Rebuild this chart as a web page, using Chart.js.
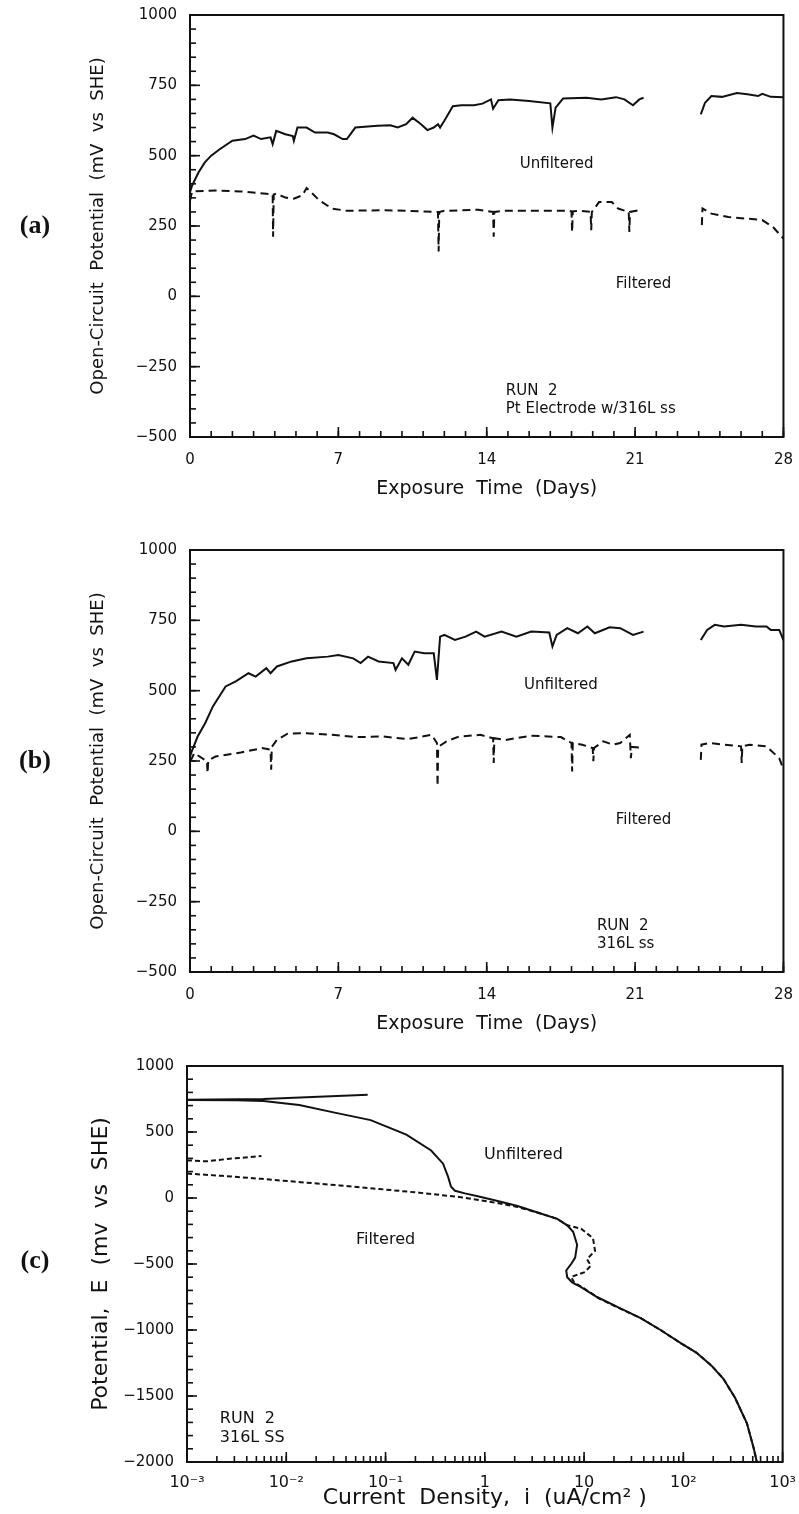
<!DOCTYPE html>
<html>
<head>
<meta charset="utf-8">
<script src="https://cdn.jsdelivr.net/npm/chart.js@4.4.1/dist/chart.umd.min.js"></script>
<style>
  html, body { margin: 0; padding: 0; background: #fff; }
  #page { position: relative; width: 799px; height: 1514px; overflow: hidden; }
  .panel { position: absolute; left: 0; width: 799px; }
</style>
</head>
<body>
<div id="page">
  <div class="panel" style="top:0;height:510px"><canvas id="chartA"></canvas></div>
  <div class="panel" style="top:530px;height:515px"><canvas id="chartB"></canvas></div>
  <div class="panel" style="top:1046px;height:468px"><canvas id="chartC"></canvas></div>
</div>
<script>
// (a) RUN 2, Pt electrode w/316L ss -- open-circuit potential vs days
const daysA_unf = [0, 0.1, 0.4, 0.7, 1.0, 1.4, 2.0, 2.6, 3.0, 3.35, 3.8, 3.9, 4.07, 4.5, 4.85, 4.9, 5.07, 5.5, 5.9, 6.5, 6.8, 7.2, 7.4, 7.8, 8.85, 9.45, 9.8, 10.2, 10.5, 10.9, 11.2, 11.5, 11.7, 11.8, 12.0, 12.4, 12.8, 13.4, 13.8, 14.2, 14.3, 14.55, 15.1, 16.0, 17.0, 17.1, 17.25, 17.6, 18.7, 19.4, 20.1, 20.5, 20.9, 21.2, 21.4, 22.5, 24.1, 24.3, 24.6, 25.1, 25.8, 26.3, 26.8, 27.0, 27.4, 28.0];
const mvA_unf   = [370, 394, 440, 476, 500, 523, 553, 559, 571, 559, 565, 541, 588, 576, 570, 553, 600, 600, 582, 582, 576, 559, 559, 600, 606, 608, 600, 612, 635, 612, 591, 600, 612, 600, 624, 676, 679, 679, 685, 700, 667, 697, 700, 694, 686, 600, 671, 703, 706, 700, 708, 700, 679, 700, 706, null, 647, 688, 712, 709, 723, 718, 712, 720, 709, 708];
const daysA_fil = [0, 0.1, 1.2, 2.4, 3.1, 3.6, 3.9, 3.92, 3.95, 4.07, 4.5, 4.9, 5.3, 5.5, 5.7, 6.1, 6.7, 7.4, 9.1, 10.3, 11.7, 11.73, 11.76, 12.0, 13.6, 14.3, 14.33, 14.36, 14.8, 17.9, 18.0, 18.03, 18.06, 18.4, 18.9, 18.93, 18.96, 19.3, 19.9, 20.2, 20.7, 20.73, 20.76, 21.2, 22.5, 24.15, 24.18, 24.6, 25.4, 26.3, 27.0, 27.5, 28.0];
const mvA_fil   = [340, 373, 376, 373, 368, 365, 362, 212, 362, 365, 351, 347, 359, 385, 371, 341, 312, 304, 306, 304, 300, 159, 300, 304, 308, 300, 212, 300, 304, 304, 302, 229, 302, 304, 300, 235, 300, 335, 335, 312, 300, 229, 300, 306, null, 253, 312, 294, 282, 276, 271, 247, 205];

// (b) RUN 2, 316L ss
const daysB_unf = [0, 0.05, 0.36, 0.72, 1.08, 1.68, 2.16, 2.76, 3.1, 3.6, 3.8, 4.1, 4.8, 5.5, 6.5, 7.0, 7.7, 8.05, 8.4, 8.9, 9.6, 9.7, 10.0, 10.3, 10.6, 11.05, 11.5, 11.65, 11.8, 12.0, 12.5, 13.0, 13.5, 13.9, 14.7, 15.4, 16.1, 16.95, 17.1, 17.3, 17.8, 18.3, 18.75, 19.1, 19.8, 20.3, 20.9, 21.4, 22.5, 24.1, 24.4, 24.76, 25.2, 26.0, 26.7, 27.2, 27.4, 27.8, 28.0];
const mvB_unf   = [265, 278, 337, 385, 444, 515, 533, 562, 550, 580, 562, 586, 604, 615, 621, 627, 615, 598, 621, 604, 598, 574, 615, 592, 639, 633, 633, 538, 692, 698, 680, 692, 710, 692, 710, 692, 710, 707, 657, 698, 722, 704, 728, 704, 725, 722, 698, 710, null, 680, 716, 734, 728, 734, 728, 728, 716, 716, 680];
const daysB_fil = [0, 0.05, 0.2, 0.8, 0.83, 0.86, 1.2, 2.4, 3.4, 3.8, 3.83, 3.86, 4.1, 4.6, 5.5, 6.7, 7.9, 9.1, 10.3, 11.4, 11.65, 11.68, 11.71, 12.1, 12.7, 13.7, 14.3, 14.33, 14.36, 14.9, 16.1, 17.5, 18.0, 18.03, 18.06, 18.5, 19.0, 19.03, 19.06, 19.5, 19.95, 20.3, 20.75, 20.8, 20.85, 21.4, 22.5, 24.1, 24.13, 24.5, 25.2, 26.0, 26.03, 26.06, 26.4, 27.2, 27.8, 28.0];
const mvB_fil   = [250, 254, 278, 249, 207, 252, 266, 280, 296, 290, 219, 300, 325, 347, 349, 343, 335, 337, 328, 343, 314, 160, 300, 320, 337, 343, 331, 243, 331, 325, 340, 335, 314, 213, 314, 308, 296, 249, 296, 320, 308, 314, 343, 260, 300, 296, null, 254, 308, 314, 308, 302, 243, 302, 308, 302, 260, 220];

// (c) RUN 2, 316L SS -- potential vs current density (uA/cm2)
const curC_unf = [0.001, 0.00316, 0.00589, 0.0135, 0.0316, 0.0708, 0.162, 0.288, 0.380, 0.427, 0.457, 0.501, 0.631, 0.871, 1.38, 2.14, 3.39, 5.37, 6.76, 7.76, 8.51, 8.13, 7.41, 6.61, 6.76, 7.59, 9.33, 13.5, 22.4, 37.2, 58.9, 93.3, 135, 191, 251, 331, 437, 513, 550];
const mvC_unf  = [742, 741, 735, 705, 645, 590, 480, 360, 260, 160, 85, 55, 35, 12, -24, -61, -110, -158, -207, -256, -354, -451, -500, -549, -600, -640, -675, -750, -830, -910, -1000, -1098, -1171, -1268, -1366, -1512, -1707, -1900, -2000];
const curC_unfRev = [0.001, 0.00589, 0.0661];
const mvC_unfRev  = [745, 750, 782];
const curC_fil = [0.001, 0.00224, 0.00562, 0.0141, 0.0347, 0.0871, 0.219, 0.550, 1.38, 2.14, 3.39, 5.37, 6.76, 9.33, 12.3, 12.9, 10.7, 11.7, 10.2, 7.41, 7.94, 10.0, 14.1, 23.4, 37.2, 58.9, 93.3, 135, 191, 251, 331, 437, 513, 550];
const mvC_fil  = [185, 168, 145, 120, 95, 68, 40, 8, -40, -68, -110, -158, -207, -232, -305, -400, -463, -512, -561, -598, -640, -685, -760, -840, -910, -1000, -1098, -1171, -1268, -1366, -1512, -1707, -1900, -2000];
const curC_filRev = [0.001, 0.00158, 0.00251, 0.00562];
const mvC_filRev  = [285, 278, 295, 318];

// tick labels
const decadesC = [0.001, 0.01, 0.1, 1, 10, 100, 1000];
const xLabelsC = ['10⁻³', '10⁻²', '10⁻¹', '1', '10', '10²', '10³'];

const FONT = '"DejaVu Sans", sans-serif';
const INK = '#111';

function pts(xs, ys) {
    return xs.map((x, i) => ({ x: x, y: ys[i] }));
}

function range(a, b, step) {
    const out = [];
    for (let v = a; v <= b + 1e-9; v += step) out.push(v);
    return out;
}

function minusFmt(v) {
    return v < 0 ? '−' + (-v) : String(v);
}

// frame, inward ticks, in-plot notes and panel tag
const frameTicks = {
    id: 'frameTicks',
    afterDraw(chart, args, o) {
        const { ctx, chartArea: a } = chart;
        const x = chart.scales.x, y = chart.scales.y;
        const seg = (x1, y1, x2, y2) => { ctx.beginPath(); ctx.moveTo(x1, y1); ctx.lineTo(x2, y2); ctx.stroke(); };
        ctx.save();
        ctx.strokeStyle = INK;
        ctx.lineWidth = 2;
        ctx.strokeRect(a.left, a.top, a.right - a.left, a.bottom - a.top);
        ctx.lineWidth = 1.6;
        o.yMinor.forEach(v => { const p = y.getPixelForValue(v); seg(a.left, p, a.left + 6, p); });
        o.yMajor.forEach(v => { const p = y.getPixelForValue(v); seg(a.left, p, a.left + 10, p); });
        o.xMinor.forEach(v => { const p = x.getPixelForValue(v); seg(p, a.bottom, p, a.bottom - 6); });
        o.xMajor.forEach(v => { const p = x.getPixelForValue(v); seg(p, a.bottom, p, a.bottom - 10); });

        ctx.fillStyle = INK;
        ctx.textBaseline = 'middle';
        o.notes.forEach(n => {
            ctx.font = (n.size || 15) + 'px ' + FONT;
            ctx.textAlign = n.align || 'left';
            ctx.fillText(n.text, x.getPixelForValue(n.x), y.getPixelForValue(n.y));
        });
        ctx.font = 'bold 26px "Liberation Serif", "DejaVu Serif", serif';
        ctx.textAlign = 'center';
        ctx.fillText(o.tag, 35, y.getPixelForValue(o.tagAt));
        ctx.restore();
    }
};

function timeChart(id, padTop, unf, fil, notes, tag) {
    return new Chart(document.getElementById(id), {
        type: 'line',
        data: {
            datasets: [
                { data: unf, borderColor: INK, borderWidth: 2, pointRadius: 0, tension: 0, spanGaps: false },
                { data: fil, borderColor: INK, borderWidth: 2, borderDash: [8, 5], pointRadius: 0, tension: 0, spanGaps: false }
            ]
        },
        options: {
            responsive: true,
            maintainAspectRatio: false,
            animation: false,
            layout: { padding: { top: padTop, right: 11, left: 86, bottom: 0 } },
            plugins: {
                legend: { display: false },
                tooltip: { enabled: false },
                frameTicks: {
                    yMinor: range(-500, 1000, 50), yMajor: range(-500, 1000, 250),
                    xMinor: range(0, 28, 1), xMajor: range(0, 28, 7),
                    notes: notes, tag: tag, tagAt: 250
                }
            },
            scales: {
                x: {
                    type: 'linear', min: 0, max: 28,
                    grid: { display: false }, border: { display: false },
                    ticks: { stepSize: 7, color: INK, padding: 6, font: { family: FONT, size: 15 }, maxRotation: 0 },
                    title: { display: true, text: 'Exposure  Time  (Days)', color: INK, font: { family: FONT, size: 19 }, padding: { top: 4, bottom: 10 } },
                    afterFit: s => { s.height = 73; }
                },
                y: {
                    min: -500, max: 1000,
                    grid: { display: false }, border: { display: false },
                    ticks: { stepSize: 250, color: INK, padding: 5, font: { family: FONT, size: 15 }, callback: minusFmt },
                    title: { display: true, text: 'Open-Circuit  Potential  (mV  vs  SHE)', color: INK, font: { family: FONT, size: 18 }, padding: 2 },
                    afterFit: s => { s.width = 104; }
                }
            }
        },
        plugins: [frameTicks]
    });
}

timeChart('chartA', 15, pts(daysA_unf, mvA_unf), pts(daysA_fil, mvA_fil), [
    { text: 'Unfiltered', x: 17.3, y: 470, align: 'center' },
    { text: 'Filtered', x: 21.4, y: 45, align: 'center' },
    { text: 'RUN  2', x: 14.9, y: -337 },
    { text: 'Pt Electrode w/316L ss', x: 14.9, y: -400 }
], '(a)');

timeChart('chartB', 20, pts(daysB_unf, mvB_unf), pts(daysB_fil, mvB_fil), [
    { text: 'Unfiltered', x: 17.5, y: 520, align: 'center' },
    { text: 'Filtered', x: 21.4, y: 40, align: 'center' },
    { text: 'RUN  2', x: 19.2, y: -336 },
    { text: '316L ss', x: 19.2, y: -402 }
], '(b)');

// (c) polarization curves
const decadeMinor = [];
decadesC.slice(0, -1).forEach(d => { for (let k = 1; k <= 9; k++) decadeMinor.push(d * k); });

new Chart(document.getElementById('chartC'), {
    type: 'line',
    data: {
        datasets: [
            { data: pts(curC_unf, mvC_unf), borderColor: INK, borderWidth: 2, pointRadius: 0, tension: 0 },
            { data: pts(curC_unfRev, mvC_unfRev), borderColor: INK, borderWidth: 2, pointRadius: 0, tension: 0 },
            { data: pts(curC_fil, mvC_fil), borderColor: INK, borderWidth: 2, borderDash: [5, 3], pointRadius: 0, tension: 0 },
            { data: pts(curC_filRev, mvC_filRev), borderColor: INK, borderWidth: 2, borderDash: [5, 3], pointRadius: 0, tension: 0 }
        ]
    },
    options: {
        responsive: true,
        maintainAspectRatio: false,
        animation: false,
        layout: { padding: { top: 20, right: 16, left: 86, bottom: 0 } },
        plugins: {
            legend: { display: false },
            tooltip: { enabled: false },
            frameTicks: {
                yMinor: range(-2000, 1000, 100), yMajor: range(-2000, 1000, 500),
                xMinor: decadeMinor, xMajor: decadesC,
                notes: [
                    { text: 'Unfiltered', x: 2.45, y: 330, align: 'center', size: 16 },
                    { text: 'Filtered', x: 0.1, y: -315, align: 'center', size: 16 },
                    { text: 'RUN  2', x: 0.00214, y: -1675, size: 16 },
                    { text: '316L SS', x: 0.00214, y: -1820, size: 16 }
                ],
                tag: '(c)', tagAt: -480
            }
        },
        scales: {
            x: {
                type: 'logarithmic', min: 0.001, max: 1000,
                grid: { display: false }, border: { display: false },
                afterBuildTicks: s => { s.ticks = decadesC.map(v => ({ value: v })); },
                ticks: { color: INK, padding: 3, autoSkip: false, maxRotation: 0, font: { family: FONT, size: 16 },
                         callback: (v, i) => xLabelsC[i] },
                title: { display: true, text: 'Current  Density,  i  (uA/cm² )', color: INK, font: { family: FONT, size: 22 }, padding: { top: 0, bottom: 3 } },
                afterFit: s => { s.height = 52; }
            },
            y: {
                min: -2000, max: 1000,
                grid: { display: false }, border: { display: false },
                ticks: { stepSize: 500, color: INK, padding: 5, font: { family: FONT, size: 15 }, callback: minusFmt },
                title: { display: true, text: 'Potential,  E  (mv  vs  SHE)', color: INK, font: { family: FONT, size: 22 }, padding: 2 },
                afterFit: s => { s.width = 101; }
            }
        }
    },
    plugins: [frameTicks]
});
</script>
</body>
</html>
